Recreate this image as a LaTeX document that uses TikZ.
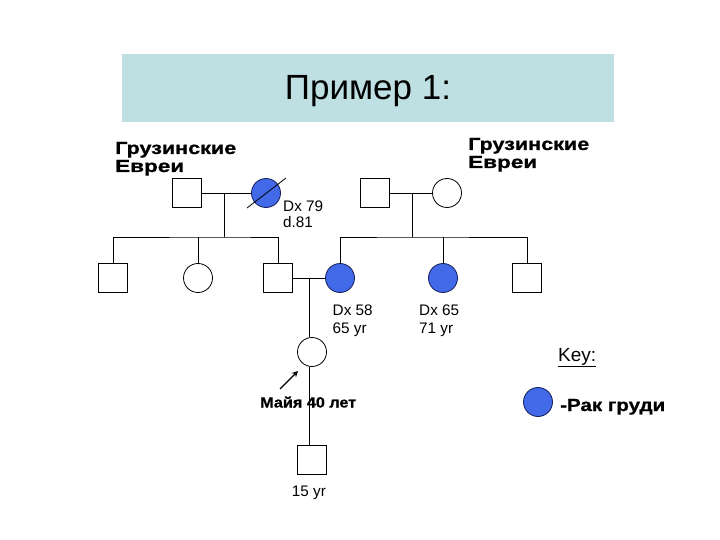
\documentclass[tikz,border=0pt]{standalone}
\usepackage{fontspec}
\usepackage{graphicx}
\setmainfont{Liberation Sans}
\newfontfamily\heavyfont[FakeBold=0.8]{Liberation Sans Bold}
\newcommand\hv[3]{\resizebox{#1}{#2}{\heavyfont #3}}
\usetikzlibrary{arrows.meta}
\definecolor{titlebg}{RGB}{190,224,226}
\definecolor{affected}{RGB}{65,105,232}
\definecolor{affline}{RGB}{20,30,90}
\tikzset{
  male/.style={draw=black, line width=0.8pt, minimum size=29pt, inner sep=0pt, fill=white},
  female/.style={circle, draw=black, line width=0.8pt, minimum size=29pt, inner sep=0pt, fill=white},
  aff/.style={circle, draw=affline, line width=0.8pt, minimum size=29pt, inner sep=0pt, fill=affected},
  rel/.style={line width=0.8pt},
  lbl/.style={font=\fontsize{15.3}{16}\selectfont, inner sep=0pt, anchor=base west},
  blbl/.style={inner sep=0pt, anchor=base west},
}
\begin{document}
\begin{tikzpicture}[x=1pt,y=-1pt]
\useasboundingbox (0,0) rectangle (720,540);
\fill[titlebg] (122,54) rectangle (614,122);
\node[font=\fontsize{35}{40}\selectfont, inner sep=0pt, anchor=base] (title) at (368,100) {Пример 1:};

% Generation I
\node[blbl] (ethL1) at (115,154) {\hv{121pt}{12pt}{Грузинские}};
\node[blbl] (ethL2) at (115,172) {\hv{69pt}{12pt}{Евреи}};
\node[blbl] (ethR1) at (468,150) {\hv{121pt}{12pt}{Грузинские}};
\node[blbl] (ethR2) at (468,168) {\hv{69pt}{12pt}{Евреи}};

\node[male] (g1m) at (187,193) {};
\node[aff] (g1f) at (266,193) {};
\coordinate (d1a) at (247,208);
\coordinate (d1b) at (286,178);
\draw[rel] (d1a) -- (d1b);
\node[lbl] (dx79) at (283,211.7) {Dx 79};
\node[lbl] (d81) at (283,227.7) {d.81};

\node[male] (g1m2) at (375,193) {};
\node[female] (g1f2) at (447,193) {};

\draw[rel] (g1m) -- (g1f);
\draw[rel] (g1m2) -- (g1f2);
\coordinate (c1) at (224,193);
\coordinate (c1b) at (224,237);
\coordinate (c2) at (412,193);
\coordinate (c2b) at (412,237);
\draw[rel] (c1) -- (c1b);
\draw[rel] (c2) -- (c2b);

% Generation II
\node[male] (s1) at (113,278) {};
\node[female] (s2) at (198,278) {};
\node[male] (s3) at (278,278) {};
\node[aff] (s4) at (340,278) {};
\node[aff] (s5) at (443,278) {};
\node[male] (s6) at (527,278) {};

\draw[rel] (s1.north) |- (c1b) -| (s3.north);
\draw[rel] (s2.north) -- (s2.north |- c1b);
\draw[rel] (s4.north) |- (c2b) -| (s6.north);
\draw[rel] (s5.north) -- (s5.north |- c2b);

\node[lbl] (dx58) at (332.5,315.7) {Dx 58};
\node[lbl] (yr65) at (332.5,333.5) {65 yr};
\node[lbl] (dx65) at (419,315.7) {Dx 65};
\node[lbl] (yr71) at (419,333.5) {71 yr};

\draw[rel] (s3) -- (s4);
\coordinate (c3) at (309,278);

% Generation III
\node[female] (p) at (312,352) {};
\node[male] (g4) at (312,460) {};
\draw[rel] (c3) -- (c3 |- p.north);
\draw[rel] (c3 |- p.south) -- (c3 |- g4.north);
\node[blbl] (maya) at (260,407.5) {\hv{96pt}{11pt}{Майя 40 лет}};
\coordinate (ar1) at (280,389);
\coordinate (ar2) at (298,371);
\draw[line width=1.3pt, -{Stealth[length=6pt,width=6pt]}] (ar1) -- (ar2);
\node[lbl] (yr15) at (291.7,496.7) {15 yr};

% Key
\node[font=\fontsize{19}{22}\selectfont, inner sep=0pt, anchor=base west] (key) at (558,361) {\underline{Key:}};
\node[aff] (keyc) at (538,402) {};
\node[blbl] (keyt) at (560,411) {\hv{105pt}{12pt}{-Рак груди}};
\end{tikzpicture}
\end{document}
